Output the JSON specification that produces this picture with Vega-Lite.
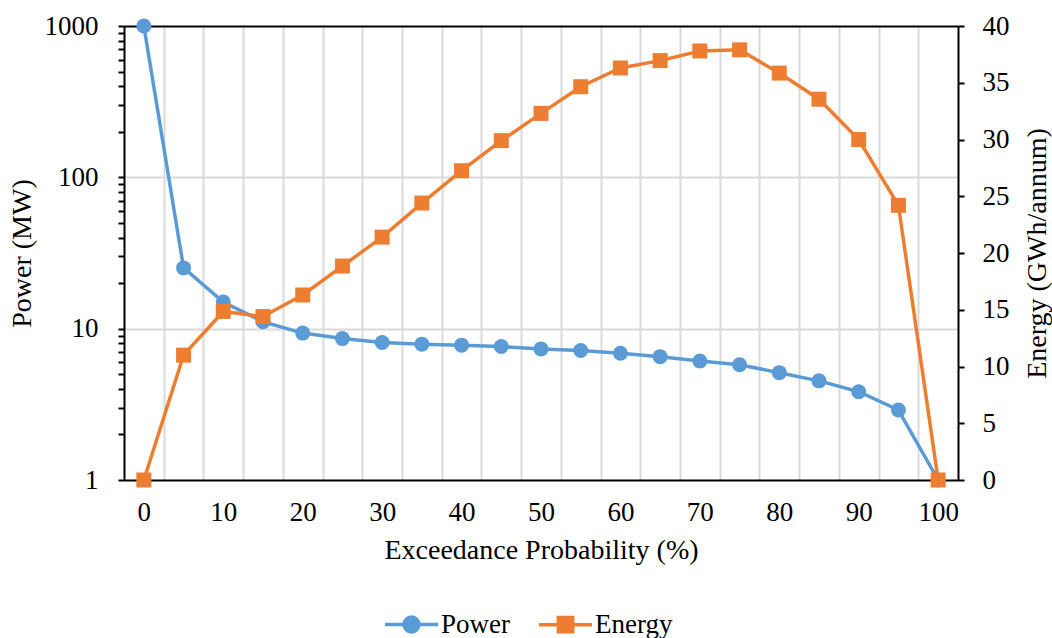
{
  "$schema": "https://vega.github.io/schema/vega-lite/v6.json",
  "width": 834,
  "height": 454,
  "autosize": {"type": "none"},
  "padding": {"left": 124, "top": 26, "right": 94, "bottom": 158},
  "background": "white",
  "config": {
    "font": "Liberation Serif",
    "view": {"stroke": null},
    "axis": {
      "labelFont": "Liberation Serif",
      "titleFont": "Liberation Serif",
      "labelFontSize": 27,
      "titleFontSize": 28,
      "labelColor": "#000000",
      "titleColor": "#000000",
      "titleFontWeight": "normal",
      "domainColor": "#000000",
      "tickColor": "#000000",
      "domainWidth": 2,
      "tickWidth": 2
    }
  },
  "data": {
    "values": [
      {"p": 0, "power": 1000, "energy": 0},
      {"p": 5, "power": 25.2, "energy": 11.0},
      {"p": 10, "power": 15.0, "energy": 14.85},
      {"p": 15, "power": 11.1, "energy": 14.4},
      {"p": 20, "power": 9.35, "energy": 16.3},
      {"p": 25, "power": 8.6, "energy": 18.85},
      {"p": 30, "power": 8.1, "energy": 21.4},
      {"p": 35, "power": 7.9, "energy": 24.4},
      {"p": 40, "power": 7.78, "energy": 27.25},
      {"p": 45, "power": 7.62, "energy": 29.9},
      {"p": 50, "power": 7.35, "energy": 32.3},
      {"p": 55, "power": 7.17, "energy": 34.65},
      {"p": 60, "power": 6.88, "energy": 36.3},
      {"p": 65, "power": 6.53, "energy": 36.95},
      {"p": 70, "power": 6.12, "energy": 37.8},
      {"p": 75, "power": 5.78, "energy": 37.9},
      {"p": 80, "power": 5.12, "energy": 35.85},
      {"p": 85, "power": 4.52, "energy": 33.55},
      {"p": 90, "power": 3.83, "energy": 30.0},
      {"p": 95, "power": 2.9, "energy": 24.2},
      {"p": 100, "power": 1, "energy": 0}
    ]
  },
  "layer": [
    {
      "encoding": {
        "x": {
          "field": "p",
          "type": "quantitative",
          "scale": {"domain": [-2.5, 102.5], "nice": false, "zero": false},
          "axis": {
            "orient": "bottom",
            "values": [0, 10, 20, 30, 40, 50, 60, 70, 80, 90, 100],
            "grid": false,
            "ticks": false,
            "tickSize": 0,
            "labelPadding": 19,
            "labelFlush": false,
            "title": "Exceedance Probability (%)",
            "titlePadding": 11
          }
        },
        "y": {
          "field": "power",
          "type": "quantitative",
          "scale": {"type": "log", "domain": [1, 1000], "nice": false},
          "axis": {
            "orient": "left",
            "values": [1, 2, 3, 4, 5, 6, 7, 8, 9, 10, 20, 30, 40, 50, 60, 70, 80, 90, 100, 200, 300, 400, 500, 600, 700, 800, 900, 1000],
            "labelExpr": "datum.value == 1 || datum.value == 10 || datum.value == 100 || datum.value == 1000 ? format(datum.value, 'd') : ''",
            "labelOverlap": false,
            "labelFlush": false,
            "tickSize": 6,
            "labelPadding": 20,
            "grid": true,
            "gridWidth": 2,
            "gridColor": {"condition": {"test": "datum.value == 10 || datum.value == 100", "value": "#D9D9D9"}, "value": "rgba(0,0,0,0)"},
            "title": "Power (MW)",
            "titlePadding": 8
          }
        },
        "color": {
          "datum": "Power",
          "type": "nominal",
          "scale": {"domain": ["Power", "Energy"], "range": ["#5B9BD5", "#ED7D31"]},
          "legend": {
            "orient": "none",
            "legendX": 259,
            "legendY": 570,
            "direction": "horizontal",
            "title": null,
            "labelFont": "Liberation Serif",
            "labelFontSize": 27,
            "labelColor": "#000000",
            "symbolSize": 2809,
            "labelOffset": 1,
            "columnPadding": 22,
            "encode": {
              "symbols": {
                "update": {
                  "shape": {"signal": "datum.value === 'Power' ? 'M-1,0H1M-0.28,0A0.28,0.28 0 1,1 0.28,0A0.28,0.28 0 1,1 -0.28,0Z' : 'M-1,0H1M-0.27,-0.27H0.27V0.27H-0.27Z'"},
                  "fill": {"signal": "datum.value === 'Power' ? '#5B9BD5' : '#ED7D31'"},
                  "stroke": {"signal": "datum.value === 'Power' ? '#5B9BD5' : '#ED7D31'"},
                  "strokeWidth": {"value": 3.5},
                  "opacity": {"value": 1},
                  "fillOpacity": {"value": 1},
                  "strokeOpacity": {"value": 1}
                }
              }
            }
          }
        }
      },
      "layer": [
        {"mark": {"type": "line", "strokeWidth": 3.5}},
        {"mark": {"type": "point", "shape": "circle", "filled": true, "size": 225, "opacity": 1}}
      ]
    },
    {
      "encoding": {
        "x": {
          "field": "p",
          "type": "quantitative",
          "axis": {
            "orient": "top",
            "values": [2.5, 7.5, 12.5, 17.5, 22.5, 27.5, 32.5, 37.5, 42.5, 47.5, 52.5, 57.5, 62.5, 67.5, 72.5, 77.5, 82.5, 87.5, 92.5, 97.5],
            "grid": true,
            "gridColor": "#D9D9D9",
            "gridWidth": 2,
            "labels": false,
            "ticks": false,
            "title": null,
            "domain": true
          }
        },
        "y": {
          "field": "energy",
          "type": "quantitative",
          "scale": {"domain": [0, 40], "nice": false, "zero": true},
          "axis": {
            "orient": "right",
            "values": [0, 5, 10, 15, 20, 25, 30, 35, 40],
            "grid": false,
            "tickSize": 6,
            "labelPadding": 18,
            "labelFlush": false,
            "title": "Energy (GWh/annum)",
            "titleAngle": 270,
            "titlePadding": 42
          }
        },
        "color": {"datum": "Energy", "type": "nominal"}
      },
      "layer": [
        {"mark": {"type": "line", "strokeWidth": 3.5}},
        {"mark": {"type": "point", "shape": "square", "filled": true, "size": 225, "opacity": 1}}
      ]
    }
  ],
  "resolve": {"scale": {"y": "independent"}, "axis": {"x": "independent"}}
}
